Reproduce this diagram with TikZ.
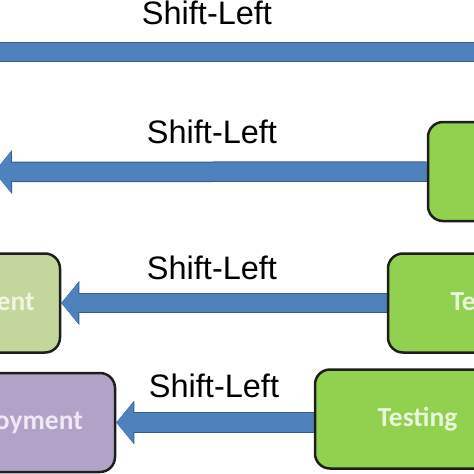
\documentclass[tikz,border=0pt]{standalone}
\usepackage{fontspec}
\setmainfont{Liberation Sans}
\newfontfamily\calibri{Carlito}
\usetikzlibrary{arrows.meta,backgrounds}

\definecolor{setaazul}{HTML}{4F81BD}
\definecolor{setaborda}{HTML}{385D8A}
\definecolor{verdeteste}{HTML}{92D050}
\definecolor{verdedev}{HTML}{C3D69B}
\definecolor{lilas}{HTML}{B3A2C7}
\definecolor{bordacaixa}{HTML}{1E1E1E}
\definecolor{textoverde}{HTML}{EAF6DA}
\definecolor{textodev}{HTML}{F0F4E4}
\definecolor{textolilas}{HTML}{EEE9F4}

\begin{document}
\begin{tikzpicture}[x=1pt, y=-1pt,
    caixa/.style={draw=bordacaixa, line width=2.5pt, rounded corners=15pt,
        minimum width=205pt, minimum height=99pt, inner sep=0pt,
        font=\calibri\bfseries\fontsize{27.5}{33}\selectfont},
    seta/.style={setaazul, line width=18.5pt, -{Triangle[length=17pt,width=39pt]},
        preaction={draw=setaborda, line width=20.5pt, -{Triangle[length=18pt,width=43pt]}}},
    rotulo/.style={font=\fontsize{32.5}{39}\selectfont}]

    \useasboundingbox (0,0) rectangle (474,474);

    % Linha 1
    \coordinate (dir1) at (500,52);
    \coordinate (esq1) at (-40,52);
    \node[rotulo] (shift1) at (207,13) {Shift-Left};

    % Linha 2
    \node[caixa, fill=verdeteste, text=textoverde] (teste2) at (530.5,171.5) {Testing};
    \coordinate (fim2) at (-6,172);
    \node[rotulo] (shift2) at (212,131.5) {Shift-Left};

    % Linha 3
    \node[caixa, fill=verdedev, text=textodev] (dev3) at (-42.5,303) {Development};
    \node[caixa, fill=verdeteste, text=textoverde] (teste3) at (490.5,303) {Testing};
    \node[rotulo] (shift3) at (212,267.5) {Shift-Left};

    % Linha 4
    \node[caixa, fill=lilas, text=textolilas] (deploy4) at (12.5,422.5) {Deployment};
    \node[caixa, fill=verdeteste, text=textoverde] (teste4) at (417.5,419) {Testing};
    \node[rotulo] (shift4) at (214,385.5) {Shift-Left};

    % Setas
    \begin{scope}[on background layer]
        \draw[seta] (dir1) -- (esq1);
        \draw[seta] (teste2.west) -- (fim2);
        \draw[seta] (teste3.west) -- (dev3.east);
        \draw[seta] (teste4.west |- deploy4.east) -- (deploy4.east);
    \end{scope}

\end{tikzpicture}
\end{document}
